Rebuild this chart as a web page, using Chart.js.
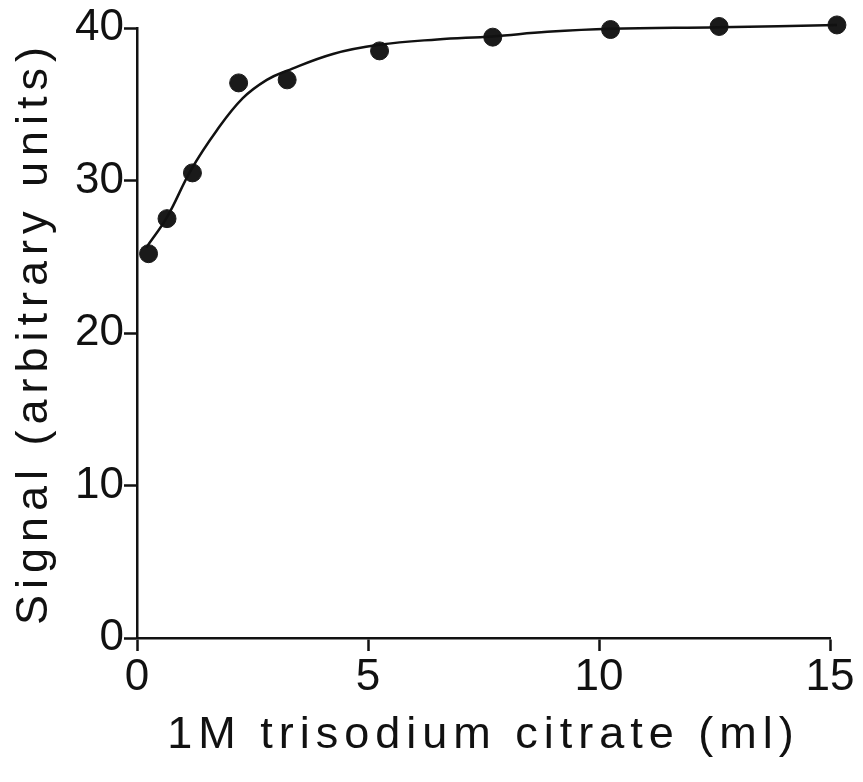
<!DOCTYPE html>
<html>
<head>
<meta charset="utf-8">
<script src="https://cdn.jsdelivr.net/npm/chart.js@4/dist/chart.umd.min.js"></script>
<style>
  html, body { margin: 0; padding: 0; background: #fff; }
  #wrap { width: 863px; height: 782px; position: relative; }
</style>
</head>
<body>
<div id="wrap"><canvas id="signalChart"></canvas></div>
<script>
// measured points
const citrateMl = [0.25, 0.65, 1.2, 2.2, 3.25, 5.25, 7.7, 10.25, 12.6, 15.15];
const signal = [25.2, 27.5, 30.5, 36.4, 36.6, 38.5, 39.4, 39.9, 40.1, 40.2];

// hand drawn curve
const curveMl = [0.2, 0.65, 1.17, 1.73, 2.29, 2.81, 3.25, 4.24, 5.24, 6.5, 7.69, 8.88, 10.25, 12.6, 15.15];
const curveSignal = [25.6, 27.6, 30.7, 33.3, 35.4, 36.6, 37.2, 38.3, 38.9, 39.25, 39.45, 39.75, 39.95, 40.05, 40.2];

const xTicks = [0, 5, 10, 15];
const yTicks = [0, 10, 20, 30, 40];

const toXY = (xs, ys) => xs.map((x, i) => ({ x: x, y: ys[i] }));

// wide letter spacing for the axis titles only (tick labels are drawn after the datasets)
const spacing = {
  id: 'spacing',
  beforeDraw(chart) { chart.ctx.letterSpacing = '6px'; },
  afterDatasetsDraw(chart) { chart.ctx.letterSpacing = '0px'; }
};

const tickFont = { family: "'Liberation Sans', Arial, sans-serif", size: 44 };
const titleFont = { family: "'Liberation Sans', Arial, sans-serif", size: 45 };

const ctx = document.getElementById('signalChart').getContext('2d');
new Chart(ctx, {
  type: 'scatter',
  data: {
    datasets: [
      {
        data: toXY(curveMl, curveSignal),
        showLine: true,
        borderColor: '#111',
        borderWidth: 2.5,
        pointRadius: 0,
        tension: 0.4,
        clip: false
      },
      {
        data: toXY(citrateMl, signal),
        backgroundColor: '#1a1a1a',
        borderColor: '#1a1a1a',
        pointRadius: 9,
        clip: false
      }
    ]
  },
  options: {
    responsive: true,
    maintainAspectRatio: false,
    animation: false,
    layout: { padding: { top: 28, right: 33, left: 0, bottom: 0 } },
    plugins: { legend: { display: false }, tooltip: { enabled: false } },
    scales: {
      x: {
        type: 'linear',
        min: 0,
        max: 15,
        afterBuildTicks: (s) => { s.ticks = xTicks.map(v => ({ value: v })); },
        afterFit: (s) => { s.height = 144; },
        grid: { drawOnChartArea: false, tickLength: 13, tickWidth: 2.5, color: '#111' },
        border: { color: '#111', width: 2.5 },
        ticks: { color: '#111', font: tickFont, padding: 0, maxRotation: 0, z: 1 },
        title: {
          display: true,
          text: '1M trisodium citrate (ml)',
          color: '#111',
          font: titleFont,
          padding: { top: 0, bottom: 19 }
        }
      },
      y: {
        min: 0,
        max: 40,
        afterBuildTicks: (s) => { s.ticks = yTicks.map(v => ({ value: v })); },
        afterFit: (s) => { s.width = 137; },
        grid: { drawOnChartArea: false, tickLength: 13, tickWidth: 2.5, color: '#111' },
        border: { color: '#111', width: 2.5 },
        ticks: { color: '#111', font: tickFont, padding: 0, z: 1 },
        title: {
          display: true,
          text: 'Signal (arbitrary units)',
          color: '#111',
          font: titleFont,
          padding: { top: 8, bottom: 0 }
        }
      }
    }
  },
  plugins: [spacing]
});
</script>
</body>
</html>
